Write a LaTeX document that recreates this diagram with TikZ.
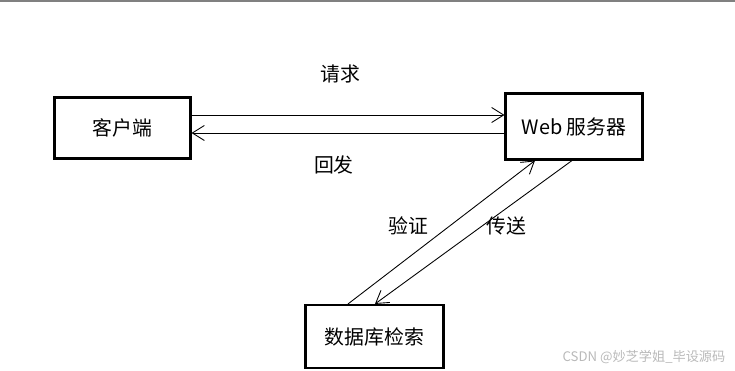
\documentclass[tikz,border=0pt]{standalone}
\usepackage{fontspec}
\setmainfont{Noto Sans CJK SC}
\usetikzlibrary{arrows.meta}
\tikzset{
	block/.style={draw, line width=1.2pt, inner sep=0pt, font=\fontsize{11.3}{13}\selectfont},
	client box/.style={block, minimum width=2.72cm, minimum height=1.22cm},
	server box/.style={block, minimum width=2.74cm, minimum height=1.32cm},
	db box/.style={block, minimum width=2.76cm, minimum height=1.26cm},
	link/.style={-{Straight Barb[length=2.4mm, width=3mm]}, line width=0.5pt},
	tag/.style={font=\fontsize{11.3}{13}\selectfont}
}

\begin{document}
\begin{tikzpicture}[x=0.02cm, y=-0.02cm]
	\useasboundingbox (0,0) rectangle (735,371);
	% --- Frame line ---
	\draw[gray, line width=0.04cm] (0,1) -- (735,1);

	% --- Boxes ---
	\node[client box] (client) at (122.5,128) {客户端};
	\node[server box] (server) at (574,126.5) {Web 服务器};
	\node[db box] (db) at (374.5,336.5) {数据库检索};

	% --- Client <-> Server ---
	\draw[link] ([yshift=0.26cm]client.east) -- ([yshift=0.26cm]client.east -| server.west);
	\draw[link] ([yshift=-0.1cm]client.east -| server.west) -- ([yshift=-0.1cm]client.east);
	\node[tag] (req) at (340,74) {请求};
	\node[tag] (resp) at (334,165) {回发};

	% --- Database <-> Server ---
	\draw[link] ([xshift=-0.53cm]db.north) -- ([xshift=-0.78cm]server.south);
	\draw[link] ([xshift=-0.04cm]server.south) -- ([xshift=0.01cm]db.north);
	\node[tag] (check) at (408,226) {验证};
	\node[tag] (send) at (506,226) {传送};

	% --- Watermark ---
	\node[font=\fontsize{7.5}{9}\selectfont, text=gray!55] (mark) at (644,357) {CSDN @妙芝学姐\_毕设源码};
\end{tikzpicture}
\end{document}
